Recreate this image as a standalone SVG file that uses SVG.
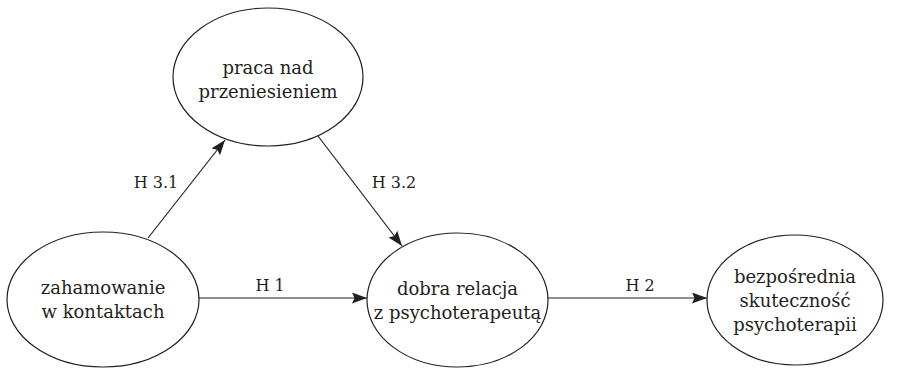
<svg xmlns="http://www.w3.org/2000/svg" width="914" height="369" viewBox="0 0 914 369">
  <style>
    .node ellipse { fill: #ffffff; stroke: #231f20; stroke-width: 1.2; }
    .node text, .label { font-family: "DejaVu Serif", "Liberation Serif", serif; fill: #231f20; text-anchor: middle; }
    .node text { font-size: 18px; }
    .label { font-size: 16px; }
    .edge { stroke: #231f20; stroke-width: 1.2; fill: none; marker-end: url(#arrow); }
  </style>
  <defs>
    <marker id="arrow" markerUnits="userSpaceOnUse" markerWidth="16" markerHeight="12" refX="15" refY="5.5" orient="auto">
      <path d="M0,0 L15,5.5 L0,11 L2.5,5.5 z" fill="#231f20"/>
    </marker>
  </defs>

  <rect width="914" height="369" fill="#ffffff"/>

  <g id="connectors">
    <line class="edge" x1="148" y1="238" x2="225" y2="140"/>
    <line class="edge" x1="318" y1="136" x2="402" y2="246"/>
    <line class="edge" x1="199" y1="298" x2="367" y2="298"/>
    <line class="edge" x1="548" y1="298" x2="707" y2="298"/>
    <text class="label" x="156" y="188">H 3.1</text>
    <text class="label" x="394" y="188">H 3.2</text>
    <text class="label" x="270" y="291">H 1</text>
    <text class="label" x="640" y="291">H 2</text>
  </g>

  <g id="zahamowanie" class="node">
    <ellipse cx="103" cy="299.5" rx="96" ry="67.5"/>
    <text x="103" y="294">zahamowanie</text>
    <text x="103" y="318">w kontaktach</text>
  </g>

  <g id="praca" class="node">
    <ellipse cx="268" cy="77" rx="95" ry="69"/>
    <text x="268" y="74">praca nad</text>
    <text x="268" y="98">przeniesieniem</text>
  </g>

  <g id="relacja" class="node">
    <ellipse cx="457.5" cy="300" rx="90.5" ry="67"/>
    <text x="457.5" y="295">dobra relacja</text>
    <text x="457.5" y="319">z psychoterapeutą</text>
  </g>

  <g id="skutecznosc" class="node">
    <ellipse cx="795" cy="300" rx="88" ry="65"/>
    <text x="795" y="283">bezpośrednia</text>
    <text x="795" y="307">skuteczność</text>
    <text x="795" y="331">psychoterapii</text>
  </g>
</svg>
